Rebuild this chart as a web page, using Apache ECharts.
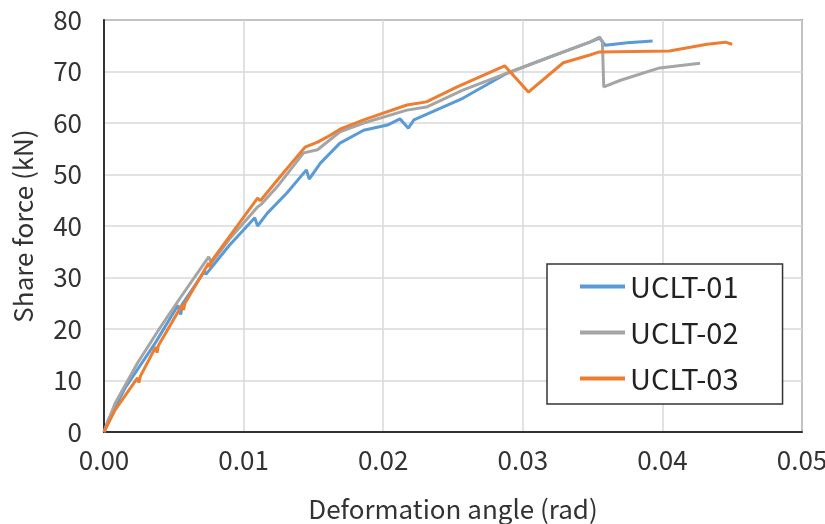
<!DOCTYPE html>
<html lang="en" style="height: 100%">
<head>
    <meta charset="utf-8">
    <title>Share force vs deformation angle</title>
    <script src="https://cdn.jsdelivr.net/npm/echarts@6.0.0/dist/echarts.min.js"></script>
</head>
<body style="height: 100%; margin: 0; background: #fff">
<div id="container" style="width: 825px; height: 524px"></div>
<script type="text/javascript">
    // values
    const angle01 = [0, 0.0003, 0.0015, 0.0037, 0.0053, 0.0055, 0.0056, 0.0072, 0.0073, 0.009, 0.0108, 0.011, 0.0117, 0.0131, 0.0145, 0.0147, 0.0155, 0.0169, 0.0186, 0.0203, 0.0212, 0.0218, 0.0222, 0.0257, 0.0289, 0.0317, 0.0348, 0.0355, 0.0359, 0.0375, 0.0393];
    const force01 = [0, 2.3, 8.5, 17.4, 24.6, 22.8, 24.8, 31.2, 30.6, 36.3, 41.6, 40.0, 42.5, 46.4, 50.9, 49.1, 52.2, 56.1, 58.6, 59.6, 60.8, 59.0, 60.6, 64.8, 69.7, 72.6, 75.7, 76.5, 75.1, 75.6, 75.9];

    const angle02 = [0, 0.0008, 0.0024, 0.004, 0.0056, 0.0075, 0.0077, 0.009, 0.011, 0.0113, 0.0124, 0.0143, 0.0153, 0.0169, 0.0186, 0.0217, 0.0231, 0.0257, 0.0291, 0.0348, 0.0355, 0.0357, 0.0358, 0.037, 0.0398, 0.0427];
    const force02 = [0, 5.6, 13.4, 20.2, 26.6, 34.0, 32.8, 37.5, 43.7, 44.3, 47.6, 54.2, 54.8, 58.3, 60.0, 62.5, 63.1, 66.4, 69.9, 75.7, 76.7, 75.8, 67.0, 68.3, 70.7, 71.6];

    const angle03 = [0, 0.0008, 0.0024, 0.0025, 0.0026, 0.0037, 0.0038, 0.0039, 0.0056, 0.0057, 0.0058, 0.0075, 0.0076, 0.0077, 0.011, 0.0112, 0.0126, 0.0144, 0.0153, 0.016, 0.0169, 0.0186, 0.0217, 0.0231, 0.0253, 0.0287, 0.0304, 0.0329, 0.0348, 0.0355, 0.0405, 0.0432, 0.0445, 0.045];
    const force03 = [0, 4.3, 10.5, 9.6, 10.8, 16.5, 15.4, 16.8, 24.7, 23.7, 25.0, 32.8, 32.0, 33.2, 45.4, 44.9, 49.5, 55.3, 56.3, 57.3, 58.8, 60.6, 63.5, 64.1, 67.0, 71.1, 66.0, 71.7, 73.2, 73.8, 74.0, 75.3, 75.7, 75.3];

    const seriesNames = ['UCLT-01', 'UCLT-02', 'UCLT-03'];
    const seriesColors = ['#5b9bd5', '#a5a5a5', '#ed7d31'];

    function pairs(xs, ys) {
        return xs.map(function (x, i) {
            return [x, ys[i]];
        });
    }

    const allData = [pairs(angle01, force01), pairs(angle02, force02), pairs(angle03, force03)];

    const font = "'Noto Sans CJK JP', 'Noto Sans', sans-serif";

    var myChart = echarts.init(document.getElementById('container'), null, {renderer: 'canvas'});

    var option = {
        animation: false,
        textStyle: {fontFamily: font},
        grid: {
            left: 104,
            right: 23,
            top: 20,
            bottom: 92,
            outerBoundsMode: 'none',
            show: true,
            borderColor: '#555',
            borderWidth: 1.5
        },
        legend: {
            orient: 'vertical',
            left: 547,
            top: 264,
            padding: [8, 44, 11, 33],
            itemWidth: 45,
            itemHeight: 4,
            itemGap: 17,
            icon: 'rect',
            borderColor: '#333',
            borderWidth: 1.5,
            backgroundColor: '#fff',
            data: seriesNames,
            textStyle: {fontSize: 29, color: '#222', fontFamily: font}
        },
        xAxis: {
            type: 'value',
            min: 0,
            max: 0.05,
            interval: 0.01,
            name: 'Deformation angle (rad)',
            nameLocation: 'middle',
            nameGap: 64,
            nameTextStyle: {fontSize: 26, color: '#333', fontFamily: font},
            axisLine: {show: true, lineStyle: {color: '#333', width: 2}},
            axisTick: {show: false},
            axisLabel: {
                fontSize: 26,
                color: '#333',
                margin: 15,
                formatter: function (v) {
                    return v.toFixed(2);
                }
            },
            splitLine: {lineStyle: {color: '#d9d9d9', width: 1.5}}
        },
        yAxis: {
            type: 'value',
            min: 0,
            max: 80,
            interval: 10,
            name: 'Share force (kN)',
            nameLocation: 'middle',
            nameGap: 68,
            nameTextStyle: {fontSize: 26, color: '#333', fontFamily: font},
            axisLine: {show: true, lineStyle: {color: '#333', width: 2}},
            axisTick: {show: false},
            axisLabel: {fontSize: 26, color: '#333', margin: 22},
            splitLine: {lineStyle: {color: '#d9d9d9', width: 1.5}}
        },
        series: seriesNames.map(function (name, i) {
            return {
                name: name,
                type: 'line',
                data: allData[i],
                showSymbol: false,
                symbol: 'none',
                color: seriesColors[i],
                lineStyle: {width: 3, color: seriesColors[i]},
                z: 2 + i
            };
        })
    };

    myChart.setOption(option);
    window.addEventListener('resize', myChart.resize);
</script>
</body>
</html>
